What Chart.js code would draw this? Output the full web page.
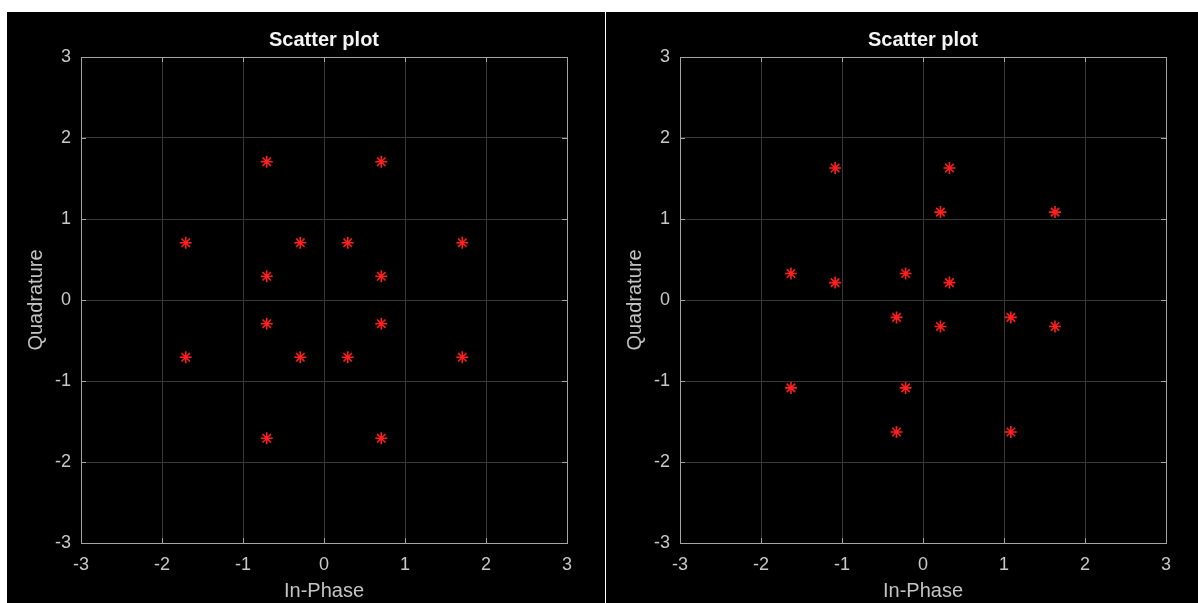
<!DOCTYPE html>
<html>
<head>
<meta charset="utf-8">
<script src="https://cdn.jsdelivr.net/npm/chart.js@4/dist/chart.umd.min.js"></script>
<style>
  html, body { margin: 0; padding: 0; background: #fff; width: 1198px; height: 603px; overflow: hidden; }
  .panel { position: absolute; top: 12px; height: 591px; background: #000; }
  #p1 { left: 7px; width: 598px; }
  #p2 { left: 606px; width: 592px; }
  canvas { display: block; }
</style>
</head>
<body>
<div class="panel" id="p1"><canvas id="c1" width="598" height="591"></canvas></div>
<div class="panel" id="p2"><canvas id="c2" width="592" height="591"></canvas></div>
<script>
// Axis ticks shared by both constellation plots
const axisTicks = [-3, -2, -1, 0, 1, 2, 3];

// Left constellation: in-phase / quadrature components
const leftI = [-0.7071, 0.7071, -1.7071, -0.2929, 0.2929, 1.7071, -0.7071, 0.7071,
               -0.7071, 0.7071, -1.7071, -0.2929, 0.2929, 1.7071, -0.7071, 0.7071];
const leftQ = [1.7071, 1.7071, 0.7071, 0.7071, 0.7071, 0.7071, 0.2929, 0.2929,
               -0.2929, -0.2929, -0.7071, -0.7071, -0.7071, -0.7071, -1.7071, -1.7071];

// Right constellation: in-phase / quadrature components
const rightI = [-1.085, 0.327, 0.215, 1.63, -1.63, -1.085, -0.215, 0.327,
                -0.327, 0.215, 1.085, 1.63, -1.63, -0.215, -0.327, 1.085];
const rightQ = [1.63, 1.63, 1.085, 1.085, 0.327, 0.215, 0.327, 0.215,
                -0.215, -0.327, -0.215, -0.327, -1.085, -1.085, -1.63, -1.63];

const FONT = 'Arial, "Liberation Sans", Helvetica, sans-serif';
const BOX = '#a4a4a4';
const GRID = '#383838';

// Short inward tick marks on all four sides of the axes box
const innerTicks = {
  id: 'innerTicks',
  afterDraw(chart) {
    const { ctx, chartArea: a, scales: { x, y } } = chart;
    const len = 5;
    ctx.save();
    ctx.strokeStyle = BOX;
    ctx.lineWidth = 1;
    ctx.beginPath();
    x.ticks.forEach(t => {
      const px = Math.round(x.getPixelForValue(t.value)) + 0.5;
      ctx.moveTo(px, a.bottom); ctx.lineTo(px, a.bottom - len);
      ctx.moveTo(px, a.top); ctx.lineTo(px, a.top + len);
    });
    y.ticks.forEach(t => {
      const py = Math.round(y.getPixelForValue(t.value)) + 0.5;
      ctx.moveTo(a.left, py); ctx.lineTo(a.left + len, py);
      ctx.moveTo(a.right, py); ctx.lineTo(a.right - len, py);
    });
    ctx.stroke();
    ctx.restore();
  }
};

function gridColor(ctx) {
  return ctx.tick && ctx.tick.value === 3 ? BOX : GRID;
}

function makeChart(id, iVals, qVals, padRight) {
  const points = iVals.map((v, k) => ({ x: v, y: qVals[k] }));
  return new Chart(document.getElementById(id), {
    type: 'scatter',
    data: {
      datasets: [{
        data: points,
        pointStyle: 'star',
        pointRadius: 6,
        pointBorderWidth: 1.6,
        borderColor: '#ff1e1e',
        backgroundColor: '#ff1e1e'
      }]
    },
    options: {
      responsive: false,
      animation: false,
      devicePixelRatio: 1,
      layout: { padding: { top: 0, left: 0, right: padRight, bottom: 0 } },
      plugins: {
        legend: { display: false },
        tooltip: { enabled: false },
        title: {
          display: true,
          fullSize: false,
          text: 'Scatter plot',
          color: '#f4f4f4',
          font: { family: FONT, size: 20, weight: 'bold', lineHeight: 1.2 },
          padding: { top: 16, bottom: 5 }
        }
      },
      scales: {
        x: {
          type: 'linear',
          min: -3, max: 3,
          afterBuildTicks: s => { s.ticks = axisTicks.map(v => ({ value: v })); },
          afterFit: s => { s.height = 60; s.paddingLeft = 0; s.paddingRight = 0; },
          ticks: {
            color: '#c8c8c8', padding: 11, maxRotation: 0, autoSkip: false,
            font: { family: FONT, size: 18, lineHeight: 1.2 }
          },
          grid: { color: gridColor, drawTicks: false, lineWidth: 1 },
          border: { color: BOX, width: 1 },
          title: {
            display: true, text: 'In-Phase', color: '#c4c4c4',
            font: { family: FONT, size: 20, lineHeight: 1.2 },
            padding: { top: 0, bottom: 0 }
          }
        },
        y: {
          type: 'linear',
          min: -3, max: 3,
          afterBuildTicks: s => { s.ticks = axisTicks.map(v => ({ value: v })); },
          afterFit: s => { s.width = 74; s.paddingTop = 0; s.paddingBottom = 0; },
          ticks: {
            color: '#c8c8c8', padding: 10, autoSkip: false,
            font: { family: FONT, size: 18, lineHeight: 1.2 }
          },
          grid: { color: gridColor, drawTicks: false, lineWidth: 1 },
          border: { color: BOX, width: 1 },
          title: {
            display: true, text: 'Quadrature', color: '#c4c4c4',
            font: { family: FONT, size: 20, lineHeight: 1.2 },
            padding: { top: 17, bottom: 0 }
          }
        }
      }
    },
    plugins: [innerTicks]
  });
}

makeChart('c1', leftI, leftQ, 38);
makeChart('c2', rightI, rightQ, 32);
</script>
</body>
</html>
